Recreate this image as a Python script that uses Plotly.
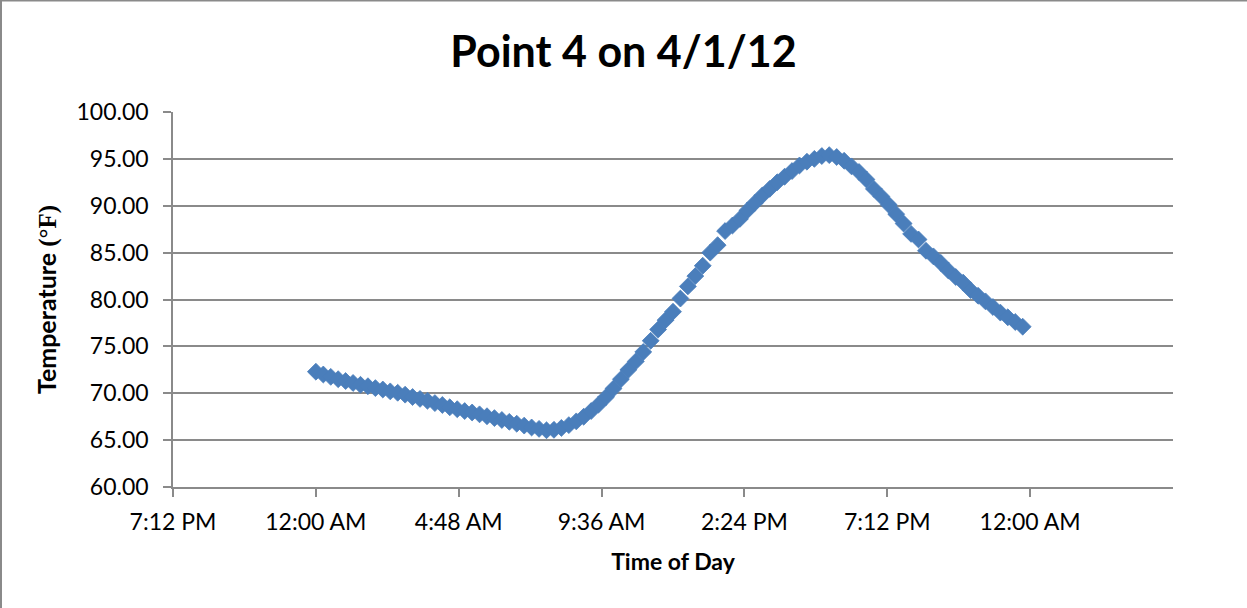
import plotly.graph_objects as go

# Time of reading (hours after midnight on 4/1/12), every 15 minutes
hours = [i * 0.25 for i in range(96)]
# Temperature readings (°F)
temps = [
    72.3, 72.0, 71.75, 71.5, 71.3, 71.1, 70.9, 70.75,
    70.55, 70.4, 70.2, 70.05, 69.85, 69.6, 69.4, 69.2,
    68.95, 68.75, 68.5, 68.3, 68.1, 67.95, 67.75, 67.55,
    67.35, 67.15, 66.95, 66.75, 66.55, 66.35, 66.2, 66.05,
    66.1, 66.3, 66.6, 67.0, 67.5, 68.1, 68.8, 69.6,
    70.5, 71.5, 72.5, 73.4, 74.4, 75.6, 76.8, 77.8,
    78.7, 80.1, 81.4, 82.5, 83.6, 85.0, 85.8, 87.3,
    87.9, 88.6, 89.5, 90.3, 91.1, 91.8, 92.5, 93.1,
    93.7, 94.3, 94.7, 95.0, 95.3, 95.4, 95.2, 94.8,
    94.2, 93.6, 92.8, 91.8, 91.0, 90.1, 89.1, 88.1,
    87.0, 86.4, 85.2, 84.6, 83.9, 83.1, 82.4, 81.8,
    81.0, 80.4, 79.8, 79.2, 78.6, 78.1, 77.6, 77.1,
]
# x axis ticks (days relative to midnight starting 4/1/12)
tick_vals = [-0.2, 0.0, 0.2, 0.4, 0.6, 0.8, 1.0]
tick_text = ["7:12 PM", "12:00 AM", "4:48 AM", "9:36 AM", "2:24 PM", "7:12 PM", "12:00 AM"]
y_ticks = [60, 65, 70, 75, 80, 85, 90, 95, 100]

x_days = [h / 24 for h in hours]

GRID = "#8a8a8a"
FONT = "Lato"
L, R, T, B = 173, 74, 112, 121
PW, PH = 1247 - L - R, 608 - T - B

fig = go.Figure()
fig.add_trace(go.Scatter(
    x=x_days, y=temps, mode="markers",
    marker=dict(symbol="diamond", size=13, color="#4A7EBB",
                line=dict(width=0.8, color="#4A7EBB")),
    showlegend=False, hoverinfo="skip",
))

fig.update_layout(
    width=1247, height=608,
    margin=dict(l=L, r=R, t=T, b=B, autoexpand=False),
    paper_bgcolor="white", plot_bgcolor="white",
    font=dict(family=FONT, color="black"),
    title=dict(text="<b>Point 4 on 4/1/12</b>", x=0.5, xref="container",
               y=1 - 52 / 608, yref="container", yanchor="middle",
               xanchor="center", font=dict(size=43, family=FONT, color="black")),
    xaxis=dict(
        range=[-0.2, 1.2], tickvals=tick_vals, ticktext=tick_text,
        showgrid=False, zeroline=False, automargin=False,
        showline=True, linecolor=GRID, linewidth=1.5,
        ticks="outside", ticklen=8, tickwidth=1.5, tickcolor=GRID,
        tickfont=dict(size=23, family=FONT, color="black"),
        ticklabelstandoff=6,
        title=dict(text="<b>Time of Day</b>", font=dict(size=23, family=FONT, color="black"),
                   standoff=20),
    ),
    yaxis=dict(
        range=[60, 100], tickvals=y_ticks, tickformat=".2f",
        showgrid=True, gridcolor=GRID, gridwidth=1.5, zeroline=False, automargin=False,
        showline=True, linecolor=GRID, linewidth=1.5,
        ticks="outside", ticklen=8, tickwidth=1.5, tickcolor=GRID,
        tickfont=dict(size=23, family=FONT, color="black"),
        ticklabelstandoff=10,
        title=dict(text="<b>Temperature <span style='font-family:Liberation Serif'>(°F)</span></b>",
                   font=dict(size=25, family=FONT, color="black"), standoff=13),
    ),
    shapes=[
        dict(type="line", xref="paper", yref="paper",
             x0=-172 / PW, x1=-172 / PW, y0=-B / PH, y1=1 + T / PH,
             line=dict(color="#8a8a8a", width=2)),
        dict(type="line", xref="paper", yref="paper",
             x0=-L / PW, x1=1 + R / PW, y0=1 + 111.5 / PH, y1=1 + 111.5 / PH,
             line=dict(color="#8a8a8a", width=2)),
    ],
)

fig.write_html("out.html", config={"displayModeBar": False},
               post_script="document.body.style.margin='0';")
